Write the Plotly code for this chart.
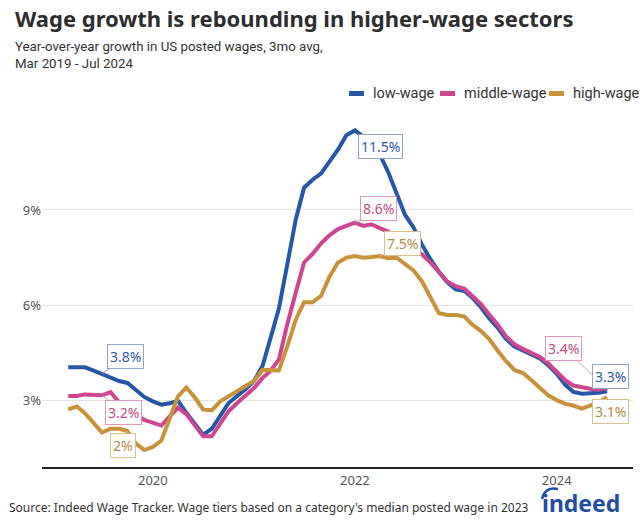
import pandas as pd
import plotly.graph_objects as go

# ---------------- data ----------------
months = pd.date_range("2019-03-01", "2024-07-01", freq="MS")

low_wage = [4.05, 4.05, 4.05, 3.95, 3.85, 3.72, 3.62, 3.56, 3.35, 3.12,
            2.98, 2.88, 2.92, 3.00, 2.62, 2.25, 1.93, 2.12, 2.52, 2.93,
            3.15, 3.36, 3.62, 4.10, 4.95, 5.90, 7.27, 8.70, 9.70, 9.95,
            10.15, 10.50, 10.90, 11.35, 11.50, 11.30, 11.05, 10.75, 10.20, 9.50,
            8.85, 8.45, 7.90, 7.45, 7.05, 6.72, 6.50, 6.45, 6.25, 5.95,
            5.60, 5.30, 4.95, 4.70, 4.58, 4.48, 4.33, 4.12, 3.85, 3.50,
            3.28, 3.22, 3.22, 3.25, 3.30]

middle_wage = [3.15, 3.15, 3.20, 3.17, 3.17, 3.27, 2.95, 2.75, 2.55, 2.40,
               2.32, 2.22, 2.50, 2.78, 2.58, 2.20, 1.88, 1.88, 2.30, 2.67,
               2.93, 3.15, 3.40, 3.72, 3.93, 4.30, 5.40, 6.40, 7.35, 7.62,
               7.95, 8.20, 8.40, 8.50, 8.60, 8.50, 8.55, 8.43, 8.32, 8.10,
               7.88, 7.72, 7.60, 7.35, 7.02, 6.75, 6.60, 6.52, 6.30, 6.05,
               5.72, 5.40, 5.03, 4.78, 4.63, 4.52, 4.38, 4.18, 3.92, 3.65,
               3.48, 3.42, 3.38, 3.35, 3.40]

high_wage = [2.73, 2.82, 2.60, 2.30, 2.00, 2.12, 2.12, 2.05, 1.65, 1.45,
             1.55, 1.75, 2.45, 3.14, 3.42, 3.10, 2.72, 2.70, 2.98, 3.14,
             3.30, 3.45, 3.62, 3.97, 3.97, 3.95, 4.70, 5.55, 6.10, 6.10,
             6.30, 6.90, 7.35, 7.50, 7.55, 7.50, 7.52, 7.55, 7.48, 7.50,
             7.30, 7.10, 6.75, 6.25, 5.75, 5.70, 5.70, 5.65, 5.40, 5.20,
             4.95, 4.58, 4.25, 3.97, 3.87, 3.65, 3.42, 3.17, 3.02, 2.90,
             2.85, 2.75, 2.85, 2.95, 3.12]

series_names = ["low-wage", "middle-wage", "high-wage"]
series_values = [low_wage, middle_wage, high_wage]

y_tick_vals = [3, 6, 9]
y_tick_text = ["3%", "6%", "9%"]
x_tick_vals = ["2020-01-01", "2022-01-01", "2024-01-01"]
x_tick_text = ["2020", "2022", "2024"]

# callout labels: (series index, month index, text)
callouts = [
    (0, 34, "11.5%"), (1, 34, "8.6%"), (2, 37, "7.5%"),
    (0, 4, "3.8%"), (1, 4, "3.2%"), (2, 7, "2%"),
    (1, 64, "3.4%"), (0, 64, "3.3%"), (2, 64, "3.1%"),
]

# ---------------- styles ----------------
line_colors = ["#2557a7", "#cf4590", "#c8923a"]
text_colors = ["#33599f", "#c24a86", "#b38b43"]
border_colors = ["#8fa3c9", "#dd98bd", "#dcc08c"]
callout_offsets = [(26, 16), (24, -14), (23, -13),
                   (24, -17), (22, 17), (-4, 15),
                   (-44, -40), (3, -15), (3, 15)]

FONT = "Noto Sans, Open Sans, sans-serif"
NARROW = "Roboto, Noto Sans, sans-serif"
W, H = 640, 524
L, R, T, B = 42, 7, 105, 57
PW, PH = W - L - R, H - T - B


def px(x):
    return (x - L) / PW


def py(y):
    return (H - B - y) / PH


fig = go.Figure()
for name, vals, col in zip(series_names, series_values, line_colors):
    fig.add_trace(go.Scatter(x=months, y=vals, mode="lines", name=name,
                             line=dict(color=col, width=4), showlegend=False))

annotations = []
for (si, mi, txt), (ax, ay) in zip(callouts, callout_offsets):
    annotations.append(dict(
        x=months[mi], y=series_values[si][mi], xref="x", yref="y",
        text=txt, showarrow=True, arrowhead=0, arrowwidth=1,
        arrowcolor=border_colors[si], ax=ax, ay=ay, standoff=0,
        font=dict(family=FONT, size=14, color=text_colors[si]),
        bgcolor="white", bordercolor=border_colors[si], borderwidth=1,
        borderpad=2))

# title & subtitle
annotations.append(dict(
    x=px(13), y=py(18), xref="paper", yref="paper", xanchor="left",
    yanchor="middle", showarrow=False,
    text="<b>Wage growth is rebounding in higher-wage sectors</b>",
    font=dict(family=FONT, size=22, color="#2d2d2d")))
annotations.append(dict(
    x=px(13), y=py(37), xref="paper", yref="paper", xanchor="left",
    yanchor="top", showarrow=False, align="left",
    text="Year-over-year growth in US posted wages, 3mo avg,<br>Mar 2019 - Jul 2024",
    font=dict(family=NARROW, size=13.3, color="#333333")))

# legend (manual)
legend_swatch_x = [349, 440, 549]
shapes = []
for name, col, sx in zip(series_names, line_colors, legend_swatch_x):
    shapes.append(dict(type="rect", xref="paper", yref="paper",
                       x0=px(sx), x1=px(sx + 15), y0=py(96), y1=py(91),
                       fillcolor=col, line=dict(width=0)))
    annotations.append(dict(
        x=px(sx + 22), y=py(93), xref="paper", yref="paper", xanchor="left",
        yanchor="middle", showarrow=False, text=name,
        font=dict(family=NARROW, size=14.5, color="#333333")))

# source
annotations.append(dict(
    x=px(7), y=py(507), xref="paper", yref="paper", xanchor="left",
    yanchor="middle", showarrow=False,
    text="Source: Indeed Wage Tracker. Wage tiers based on a category's median posted wage in 2023",
    font=dict(family=FONT, size=12, color="#333333")))

# indeed logo
annotations.append(dict(
    x=px(622), y=py(503), xref="paper", yref="paper", xanchor="right",
    yanchor="middle", showarrow=False, text="<b>indeed</b>",
    font=dict(family=FONT, size=23, color="#1f4ea3")))
shapes.append(dict(type="path", xref="paper", yref="paper",
                   path="M {:.4f} {:.4f} Q {:.4f} {:.4f} {:.4f} {:.4f}".format(
                       px(542), py(499), px(545), py(486), px(558), py(489)),
                   line=dict(color="#1f4ea3", width=2.5)))

fig.update_layout(
    width=W, height=H,
    margin=dict(l=L, r=R, t=T, b=B),
    paper_bgcolor="white", plot_bgcolor="white",
    annotations=annotations, shapes=shapes,
    showlegend=False,
    font=dict(family=FONT),
    xaxis=dict(type="date", range=["2018-11-26", "2024-10-03"],
               tickvals=x_tick_vals, ticktext=x_tick_text,
               showgrid=False, zeroline=False, showline=True,
               linecolor="#222222", linewidth=2, ticks="",
               tickfont=dict(family=FONT, size=13, color="#555555")),
    yaxis=dict(range=[0.917, 12.30], tickvals=y_tick_vals,
               ticktext=y_tick_text, showgrid=True, gridcolor="#e3e3e3",
               gridwidth=1, zeroline=False, showline=False, ticks="",
               automargin=False,
               tickfont=dict(family=FONT, size=13, color="#555555")),
)

fig.write_html("out.html", config={"displayModeBar": False},
               post_script="document.body.style.margin='0px';")
